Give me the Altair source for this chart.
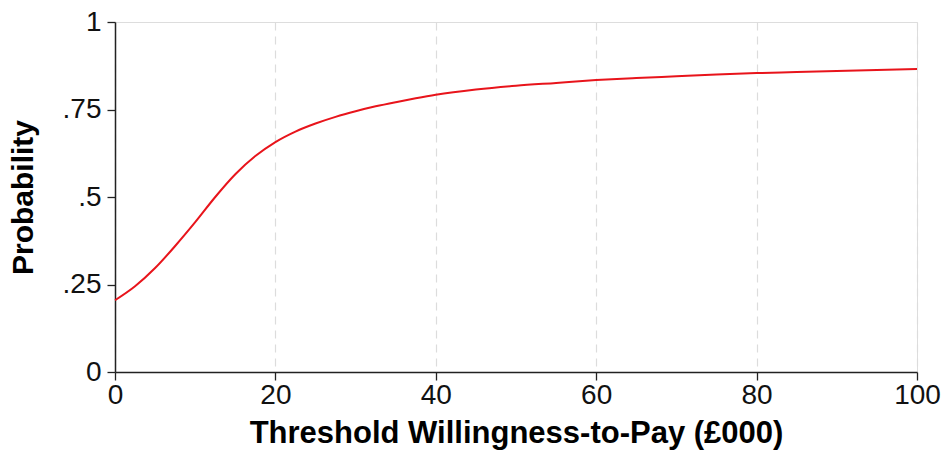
import altair as alt
import pandas as pd

wtp = [0, 2.5, 5, 7.5, 10, 12.5, 15, 17.5, 20, 22.5, 25, 27.5, 30, 32.5, 35, 37.5,
       40, 45, 50, 55, 60, 65, 70, 75, 80, 85, 90, 95, 100]
prob = [0.205, 0.245, 0.297, 0.360, 0.428, 0.500, 0.565, 0.617, 0.657, 0.687,
        0.710, 0.729, 0.745, 0.759, 0.771, 0.782, 0.792, 0.807, 0.818, 0.826,
        0.834, 0.840, 0.845, 0.850, 0.854, 0.857, 0.860, 0.863, 0.866]
x_ticks = [0, 20, 40, 60, 80, 100]
y_ticks = [0, 0.25, 0.5, 0.75, 1]

df = pd.DataFrame({"wtp": wtp, "prob": prob})

font = "Liberation Sans"

chart = alt.Chart(df).mark_line(color="#e8141b", strokeWidth=2, interpolate="monotone").encode(
    x=alt.X("wtp:Q", scale=alt.Scale(domain=[0, 100], nice=False),
            axis=alt.Axis(values=x_ticks, title="Threshold Willingness-to-Pay (£000)",
                          grid=True, gridColor="#dcdcdc", gridDash=[8, 6], gridWidth=1.2,
                          domainColor="#222", domainWidth=1.5, tickColor="#222", tickWidth=1.3,
                          tickSize=8, labelFontSize=28, labelFont=font, labelColor="#111",
                          labelPadding=1, titleFont=font, titleFontSize=31, titleFontWeight="bold",
                          titleColor="#000", titlePadding=9, labelFlush=False)),
    y=alt.Y("prob:Q", scale=alt.Scale(domain=[0, 1], nice=False),
            axis=alt.Axis(values=y_ticks, title="Probability", grid=False,
                          labelExpr="datum.value == 0 ? '0' : datum.value == 1 ? '1' : replace(format(datum.value, '.2~f'), '0.', '.')",
                          domainColor="#222", domainWidth=1.5, tickColor="#222", tickWidth=1.3,
                          tickSize=8, labelFontSize=28, labelFont=font, labelColor="#111",
                          labelPadding=6, titleFont=font, titleFontSize=30, titleFontWeight="bold",
                          titleColor="#000", titlePadding=24, labelFlush=False)),
).properties(
    width=802, height=350,
    autosize=alt.AutoSizeParams(type="none"),
    padding={"left": 115, "top": 22, "right": 25, "bottom": 81},
).configure_view(stroke=None).configure(background="white")

chart.save("out.html", embed_options={"renderer": "svg", "actions": False})
